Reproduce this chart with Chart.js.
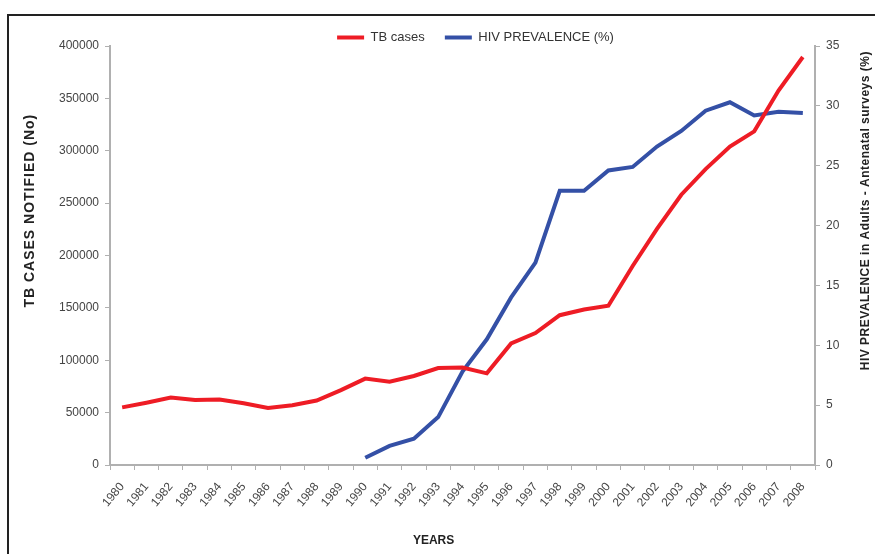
<!DOCTYPE html>
<html>
<head>
<meta charset="utf-8">
<script src="https://cdn.jsdelivr.net/npm/chart.js@4.4.1/dist/chart.umd.min.js"></script>
<style>
  html, body { margin: 0; padding: 0; background: #fff; }
  #wrap { position: relative; width: 875px; height: 554px; overflow: hidden; }
  #frame { position: absolute; left: 7px; top: 14px; width: 900px; height: 600px;
           border-left: 2px solid #222; border-top: 2px solid #222; }
  canvas { position: absolute; left: 0; top: 0; }
</style>
</head>
<body>
<div id="wrap">
  <div id="frame"></div>
  <canvas id="myChart" width="875" height="554"></canvas>
</div>
<script>
const years = ['1980', '1981', '1982', '1983', '1984', '1985', '1986', '1987', '1988', '1989',
  '1990', '1991', '1992', '1993', '1994', '1995', '1996', '1997', '1998', '1999',
  '2000', '2001', '2002', '2003', '2004', '2005', '2006', '2007', '2008'];

const tbCases = [55000, 59500, 64500, 62000, 62500, 59000, 54500, 57000, 61500, 71500,
  82500, 79500, 85000, 92500, 93000, 87500, 116000, 126000, 143000, 148500,
  152000, 190000, 225500, 258000, 282500, 304000, 318500, 357500, 389500];

const hivPrevalence = [null, null, null, null, null, null, null, null, null, null,
  0.6, 1.6, 2.2, 4.0, 7.8, 10.5, 14.0, 16.9, 22.9, 22.9,
  24.6, 24.9, 26.6, 27.9, 29.6, 30.3, 29.2, 29.5, 29.4];

const tbTicksMax = 400000;
const hivTicksMax = 35;

const leftTitle = 'TB CASES NOTIFIED (No)';
const rightTitle = 'HIV PREVALENCE in Adults - Antenatal surveys (%)';
const bottomTitle = 'YEARS';

const fontFam = "'Liberation Sans', Arial, sans-serif";
const axisGray = '#b0b0b0';
const labelColor = '#444';

// axis titles sit off-centre in the original, so they are drawn here
const axisTitles = {
  id: 'axisTitles',
  afterDraw(chart) {
    const c = chart.ctx, a = chart.chartArea;
    const midY = a.top + (a.bottom - a.top) * 0.393;
    c.save();
    c.fillStyle = '#222';
    c.textAlign = 'center';
    c.textBaseline = 'middle';

    c.font = 'bold 14px ' + fontFam;
    c.letterSpacing = '1px';
    c.save();
    c.translate(30, midY);
    c.rotate(-Math.PI / 2);
    c.fillText(leftTitle, 0, 0);
    c.restore();

    c.font = 'bold 12px ' + fontFam;
    c.letterSpacing = '0.5px';
    c.save();
    c.translate(chart.width - 9, midY);
    c.rotate(-Math.PI / 2);
    c.fillText(rightTitle, 0, 0);
    c.restore();

    c.font = 'bold 12px ' + fontFam;
    c.letterSpacing = '0px';
    c.fillText(bottomTitle, a.left + (a.right - a.left) * 0.459, 541);
    c.restore();
  }
};

// legend sits close to the plot in the original
const tightLegend = {
  id: 'tightLegend',
  beforeLayout(chart) {
    const lg = chart.legend;
    if (lg && !lg._tight) {
      const fit = lg.fit;
      lg.fit = function () { fit.call(this); this.height -= 8; };
      lg._tight = true;
    }
  }
};

const ctx = document.getElementById('myChart');

new Chart(ctx, {
  type: 'line',
  data: {
    labels: years,
    datasets: [{
      label: 'TB cases',
      data: tbCases,
      borderColor: '#ee1c25',
      backgroundColor: '#ee1c25',
      borderWidth: 4,
      pointRadius: 0,
      tension: 0,
      yAxisID: 'y'
    }, {
      label: 'HIV PREVALENCE (%)',
      data: hivPrevalence,
      borderColor: '#3450a6',
      backgroundColor: '#3450a6',
      borderWidth: 4,
      pointRadius: 0,
      tension: 0,
      yAxisID: 'y1'
    }]
  },
  plugins: [axisTitles, tightLegend],
  options: {
    responsive: false,
    animation: false,
    layout: { padding: { top: 29, left: 56, right: -20, bottom: 0 } },
    plugins: {
      tooltip: { enabled: false },
      legend: {
        position: 'top',
        labels: {
          usePointStyle: true,
          pointStyle: 'line',
          pointStyleWidth: 27,
          boxHeight: 13,
          padding: 2,
          color: '#333',
          font: { family: fontFam, size: 13 },
          generateLabels: chart => {
            const items = Chart.defaults.plugins.legend.labels.generateLabels(chart);
            items.forEach((it, i) => { if (i < items.length - 1) it.text += '     '; });
            return items;
          }
        }
      }
    },
    scales: {
      x: {
        offset: true,
        grid: { offset: true, drawOnChartArea: false, tickLength: 5, color: axisGray },
        border: { color: axisGray, width: 2 },
        ticks: {
          minRotation: 50, maxRotation: 50, autoSkip: false, padding: 10,
          color: labelColor, font: { family: fontFam, size: 12 }
        },
        afterFit: s => { s.height = 89; }
      },
      y: {
        position: 'left',
        min: 0, max: tbTicksMax,
        grid: { drawOnChartArea: false, tickLength: 5, color: axisGray },
        border: { color: axisGray, width: 2 },
        ticks: {
          stepSize: 50000, padding: 6, color: labelColor,
          font: { family: fontFam, size: 12 },
          callback: v => String(v)
        },
        afterFit: s => { s.width = 54; }
      },
      y1: {
        position: 'right',
        min: 0, max: hivTicksMax,
        grid: { drawOnChartArea: false, tickLength: 5, color: axisGray },
        border: { color: axisGray, width: 2 },
        ticks: {
          stepSize: 5, padding: 6, color: labelColor,
          font: { family: fontFam, size: 12 },
          callback: v => String(v)
        },
        afterFit: s => { s.width = 80; }
      }
    }
  }
});
</script>
</body>
</html>
